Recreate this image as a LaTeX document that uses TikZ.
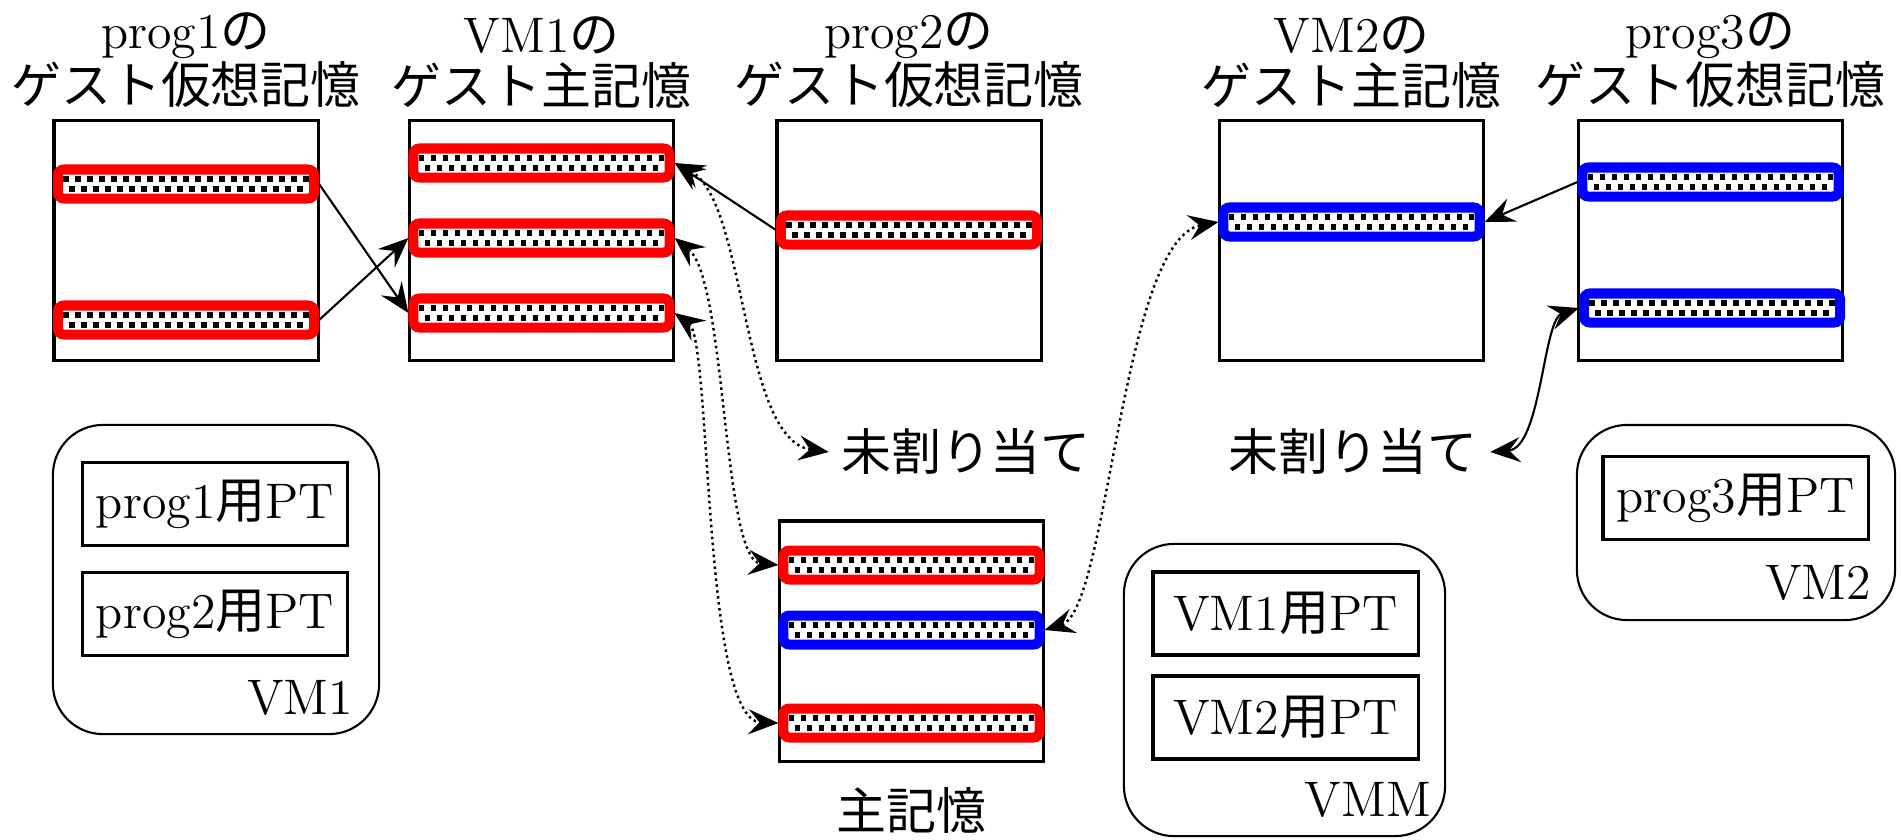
\documentclass[tikz,border=0pt]{standalone}
\usepackage{fontspec}
\newfontfamily\jp{Noto Sans CJK JP}
\usetikzlibrary{calc,positioning,arrows.meta}

\begin{document}
\begin{tikzpicture}[
        x=0.01cm, y=-0.01cm,
        >={Stealth[length=3mm,width=2.5mm,inset=1.1mm]},
        font=\fontsize{14.2pt}{14.8pt}\selectfont,
        mem/.style={
            rectangle,
            draw=black,
            line width=0.9pt,
            minimum width=2.64cm,
            minimum height=2.40cm,
            inner sep=0pt
        },
        memtitle/.style={
            align=center,
            inner sep=0pt
        },
        pagebar/.style={
            rectangle,
            rounded corners=0.06cm,
            draw=#1,
            line width=0.1cm,
            fill=white,
            minimum width=2.56cm,
            minimum height=0.29cm,
            inner sep=0pt,
            path picture={
                \foreach \k in {-11,...,11}{
                    \fill[black, sharp corners] ($(path picture bounding box.center)+(\k*12-3,-8)$) rectangle +(5.5,5.5);
                    \fill[black, sharp corners] ($(path picture bounding box.center)+(\k*12+3,2)$) rectangle +(5.5,5.5);
                }
            }
        },
        vmbox/.style={
            rectangle,
            rounded corners=0.5cm,
            draw=black,
            line width=0.6pt,
            inner sep=0pt
        },
        ptbox/.style={
            rectangle,
            draw=black,
            line width=0.9pt,
            minimum width=2.65cm,
            minimum height=0.83cm
        },
        arrow/.style={
            ->,
            line width=0.6pt
        },
        maparrow/.style={
            <->,
            densely dotted,
            line width=0.7pt
        }
    ]
    \useasboundingbox (0,0) rectangle (1901,839);

    % Memories
    \node[mem] (prog1) at (186,240.5) {};
    \node[mem] (vm1) at (541.5,240.5) {};
    \node[mem] (prog2) at (909,240.5) {};
    \node[mem] (vm2) at (1351.5,240.5) {};
    \node[mem] (prog3) at (1710.5,240.5) {};
    \node[mem] (mainmem) at (911.5,641) {};

    % Titles
    \node[memtitle, above=0.1cm of prog1] (prog1t) {prog1{\jp の}\\{\jp ゲスト仮想記憶}};
    \node[memtitle, above=0.1cm of vm1] (vm1t) {VM1{\jp の}\\{\jp ゲスト主記憶}};
    \node[memtitle, above=0.1cm of prog2] (prog2t) {prog2{\jp の}\\{\jp ゲスト仮想記憶}};
    \node[memtitle, above=0.1cm of vm2] (vm2t) {VM2{\jp の}\\{\jp ゲスト主記憶}};
    \node[memtitle, above=0.1cm of prog3] (prog3t) {prog3{\jp の}\\{\jp ゲスト仮想記憶}};
    \node[below=0.12cm of mainmem] (mainmemt) {\jp 主記憶};

    % Pages
    \node[pagebar=red] (p1a) at (186,184) {};
    \node[pagebar=red] (p1b) at (186,320) {};
    \node[pagebar=red] (v1a) at (541.5,163) {};
    \node[pagebar=red] (v1b) at (541.5,238) {};
    \node[pagebar=red] (v1c) at (541.5,313) {};
    \node[pagebar=red] (p2a) at (909,230) {};
    \node[pagebar=blue] (v2a) at (1351.5,222) {};
    \node[pagebar=blue] (p3a) at (1710.5,182) {};
    \node[pagebar=blue] (p3b) at (1712,308) {};
    \node[pagebar=red] (mma) at (911.5,565) {};
    \node[pagebar=blue] (mmb) at (911.5,630) {};
    \node[pagebar=red] (mmc) at (911.5,723) {};

    % Unallocated
    \node (free1) at (966,452) {\jp 未割り当て};
    \node (free2) at (1353,452) {\jp 未割り当て};

    % Page tables
    \node[vmbox, minimum width=3.26cm, minimum height=3.09cm] (vm1box) at (216,579.5) {};
    \node[ptbox] (prog1pt) at (215,504) {prog1{\jp 用}PT};
    \node[ptbox] (prog2pt) at (215,614) {prog2{\jp 用}PT};
    \node (vm1name) at (300,698) {VM1};

    \node[vmbox, minimum width=3.21cm, minimum height=2.92cm] (vmmbox) at (1284.5,690) {};
    \node[ptbox] (vm1pt) at (1285.5,613.5) {VM1{\jp 用}PT};
    \node[ptbox] (vm2pt) at (1285.5,717.5) {VM2{\jp 用}PT};
    \node (vmmname) at (1368,800) {VMM};

    \node[vmbox, minimum width=3.18cm, minimum height=1.95cm] (vm2box) at (1736,522.5) {};
    \node[ptbox] (prog3pt) at (1735.5,498) {prog3{\jp 用}PT};
    \node (vm2name) at (1818,583) {VM2};

    % Guest mappings
    \draw[arrow] (p1a.east) -- (v1c.west);
    \draw[arrow] (p1b.east) -- (v1b.west);
    \draw[arrow] (p2a.west) -- (v1a.east);
    \draw[arrow] (p3a.west) -- (v2a.east);

    % Host mappings
    \draw[maparrow] (v1a.east) .. controls +(72,37) and +(-88,-12) .. (free1.west);
    \draw[maparrow] (v1b.east) .. controls +(52,42) and +(-56,-5) .. (mma.west);
    \draw[maparrow] (v1c.east) .. controls +(37,27) and +(-76,-3) .. (mmc.west);
    \draw[maparrow] (mmb.east) .. controls +(64,-20) and +(-97,18) .. (v2a.west);
    \draw[<->, line width=0.6pt] (p3b.west) .. controls +(-36,12) and +(51,-4) .. (free2.east);

\end{tikzpicture}
\end{document}
